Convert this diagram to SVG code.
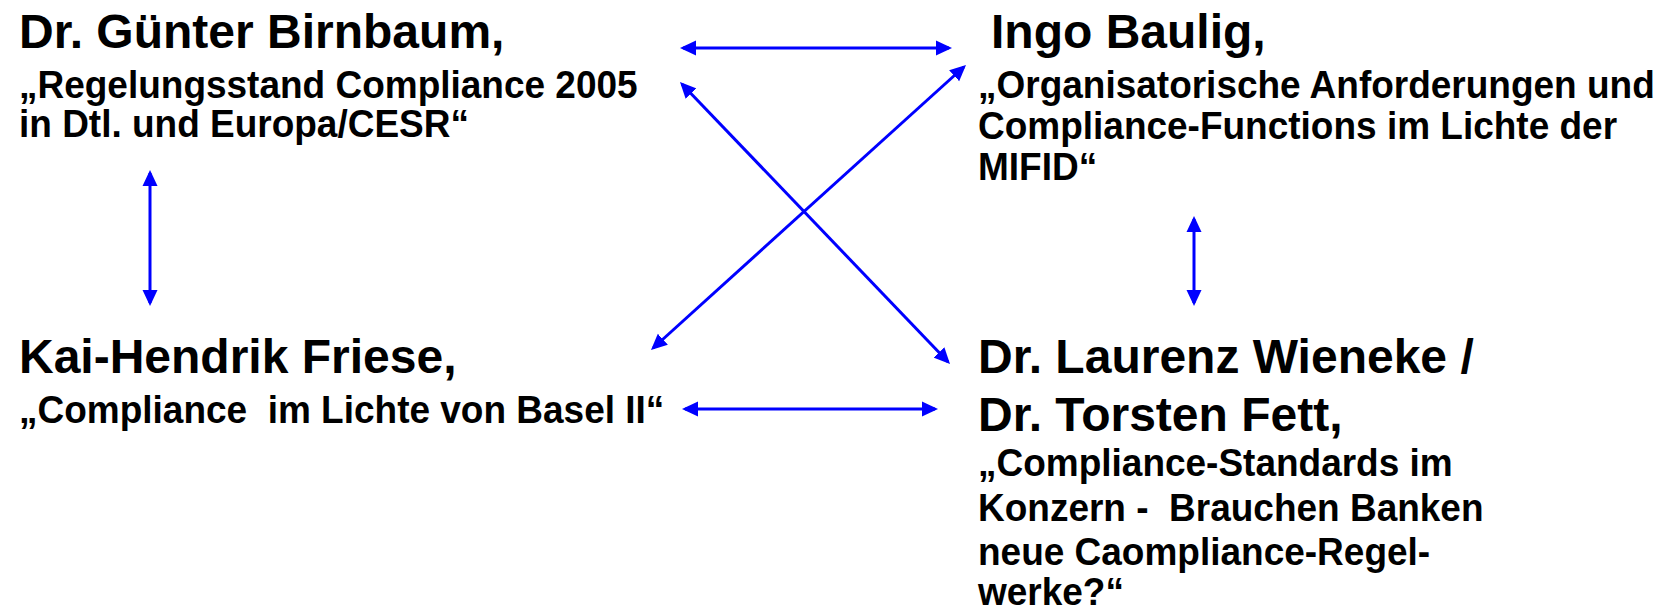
<svg xmlns="http://www.w3.org/2000/svg" width="1671" height="612" viewBox="0 0 1671 612">
<style>
text { font-family: "Liberation Sans", Arial, sans-serif; font-weight: bold; fill: #000; }
.t { font-size: 48px; }
.s { font-size: 37px; }
.c { stroke: #0000FF; stroke-width: 3; fill: none; marker-start: url(#ah); marker-end: url(#ah); }
</style>
<defs>
<marker id="ah" markerUnits="userSpaceOnUse" markerWidth="16" markerHeight="16" viewBox="0 0 16 16" refX="13" refY="8" orient="auto-start-reverse">
<path d="M0,0.5 L16,8 L0,15.5 z" fill="#0000FF"/>
</marker>
</defs>
<rect width="1671" height="612" fill="#FFFFFF"/>
<g id="connectors">
<line class="c" x1="683" y1="48" x2="949" y2="48"/>
<line class="c" x1="682.07" y1="84.17" x2="947.93" y2="361.83"/>
<line class="c" x1="653.22" y1="347.99" x2="963.78" y2="67.01"/>
<line class="c" x1="150" y1="173" x2="150" y2="303"/>
<line class="c" x1="1194" y1="219" x2="1194" y2="303"/>
<line class="c" x1="685" y1="409" x2="935" y2="409"/>
</g>
<g id="node-birnbaum">
<text class="t" x="19" y="48">Dr. Günter Birnbaum,</text>
<text class="s" x="19" y="0" transform="translate(0 98) scale(1 1.06)">„Regelungsstand Compliance 2005</text>
<text class="s" x="19" y="0" transform="translate(0 137) scale(1 1.06)">in Dtl. und Europa/CESR“</text>
</g>
<g id="node-baulig">
<text class="t" x="991" y="48">Ingo Baulig,</text>
<text class="s" x="978" y="0" transform="translate(0 98) scale(1 1.06)">„Organisatorische Anforderungen und</text>
<text class="s" x="978" y="0" transform="translate(0 139) scale(1 1.06)">Compliance-Functions im Lichte der</text>
<text class="s" x="978" y="0" transform="translate(0 180) scale(1 1.06)">MIFID“</text>
</g>
<g id="node-friese">
<text class="t" x="19" y="373">Kai-Hendrik Friese,</text>
<text class="s" x="19" y="0" transform="translate(0 423) scale(1 1.06)">„Compliance&#160; im Lichte von Basel II“</text>
</g>
<g id="node-wieneke-fett">
<text class="t" x="978" y="373">Dr. Laurenz Wieneke /</text>
<text class="t" x="978" y="431">Dr. Torsten Fett,</text>
<text class="s" x="978" y="0" transform="translate(0 476) scale(1 1.06)">„Compliance-Standards im</text>
<text class="s" x="978" y="0" transform="translate(0 521) scale(1 1.06)">Konzern -&#160; Brauchen Banken</text>
<text class="s" x="978" y="0" transform="translate(0 565) scale(1 1.06)">neue Caompliance-Regel-</text>
<text class="s" x="978" y="0" transform="translate(0 605) scale(1 1.06)">werke?“</text>
</g>
</svg>
